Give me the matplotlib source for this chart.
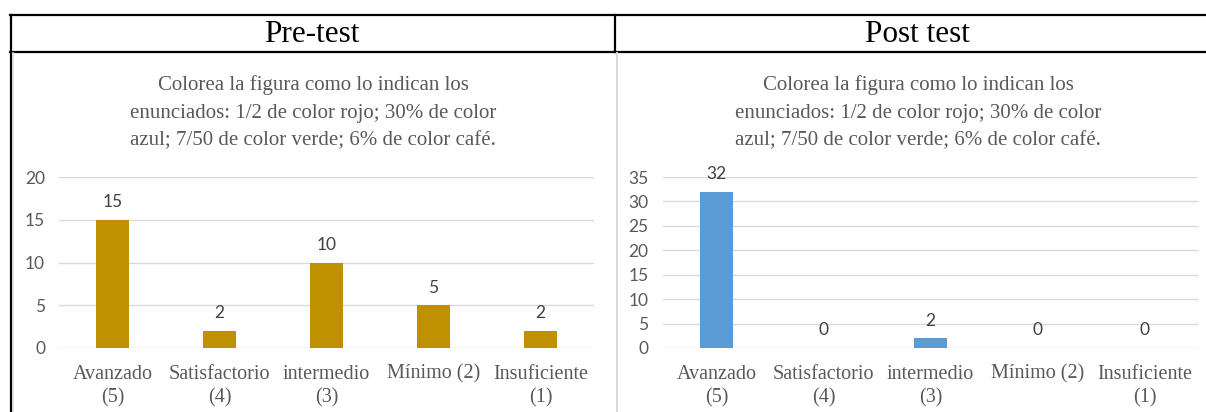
import matplotlib
matplotlib.use("Agg")
import matplotlib.pyplot as plt
from matplotlib.lines import Line2D

# Data
categories = ["Avanzado\n(5)", "Satisfactorio\n(4)", "intermedio\n(3)", "Mínimo (2)", "Insuficiente\n(1)"]
pre_values = [15, 2, 10, 5, 2]
post_values = [32, 0, 2, 0, 0]
panel_titles = ["Pre-test", "Post test"]
chart_title = ("Colorea la figura como lo indican los\n"
               "enunciados: 1/2 de color rojo; 30% de color\n"
               "azul; 7/50 de color verde; 6% de color café.")
pre_ticks = [0, 5, 10, 15, 20]
post_ticks = [0, 5, 10, 15, 20, 25, 30, 35]

W, H = 1206, 412
fig = plt.figure(figsize=(W / 100, H / 100), dpi=100)
fig.patch.set_facecolor("white")

SERIF = "Liberation Serif"
SANS = "Lato"
GRAY = "#595959"
GRID = "#D9D9D9"


def fx(px):
    return px / W


def fy(py):
    return 1 - py / H


def hline(x0, x1, y, color="black", lw=1.6):
    fig.add_artist(Line2D([fx(x0), fx(x1)], [fy(y), fy(y)], color=color, lw=lw,
                          transform=fig.transFigure))


def vline(x, y0, y1, color="black", lw=1.6):
    fig.add_artist(Line2D([fx(x), fx(x)], [fy(y0), fy(y1)], color=color, lw=lw,
                          transform=fig.transFigure))


# Table frame
hline(10, W, 15)
hline(10, W, 52)
vline(11, 15, H)
vline(615, 15, 52)
# Chart frames (light gray)
vline(13, 53, H, color=GRID, lw=1.2)
vline(616.5, 53, H, color=GRID, lw=1.4)

# Header texts
fig.text(fx(312), fy(35), panel_titles[0], ha="center", va="center",
         fontsize=22.5, family=SERIF, color="black")
fig.text(fx(917), fy(35), panel_titles[1], ha="center", va="center",
         fontsize=22.5, family=SERIF, color="black")


def draw_panel(x0, x1, values, ticks, color, title_cx, pad):
    y_top, y_bot = 177, 348
    ax = fig.add_axes([fx(x0), fy(y_bot), fx(x1 - x0), (y_bot - y_top) / H])
    xs = list(range(len(values)))
    ax.bar(xs, values, width=0.31, color=color, zorder=3)
    ax.set_xlim(-0.5, len(values) - 0.5)
    ax.set_ylim(0, ticks[-1])
    ax.set_yticks(ticks)
    ax.set_xticks(xs)
    ax.set_xticklabels(categories, family=SERIF, fontsize=14.5, color=GRAY,
                       linespacing=1.35)
    for lab in ax.get_yticklabels():
        lab.set_family(SANS)
        lab.set_fontsize(12.5)
        lab.set_color(GRAY)
    ax.tick_params(axis="both", length=0)
    ax.tick_params(axis="y", pad=pad)
    ax.tick_params(axis="x", pad=12)
    ax.yaxis.grid(True, color=GRID, lw=1.0, zorder=0)
    for s in ax.spines.values():
        s.set_visible(False)
    ax.set_facecolor("none")
    for x, v in zip(xs, values):
        ax.annotate(str(v), (x, v), xytext=(0, 7), textcoords="offset points",
                    ha="center", va="bottom", family=SANS, fontsize=12.5,
                    color="#404040")
    fig.text(fx(title_cx), fy(113), chart_title, ha="center", va="center",
             family=SERIF, fontsize=15, color=GRAY, linespacing=1.62)
    return ax


draw_panel(59, 594, pre_values, pre_ticks, "#BF9000", 313, 10)
draw_panel(663, 1198, post_values, post_ticks, "#5B9BD5", 918, 10.5)

fig.savefig("out.png", dpi=100, facecolor="white")
